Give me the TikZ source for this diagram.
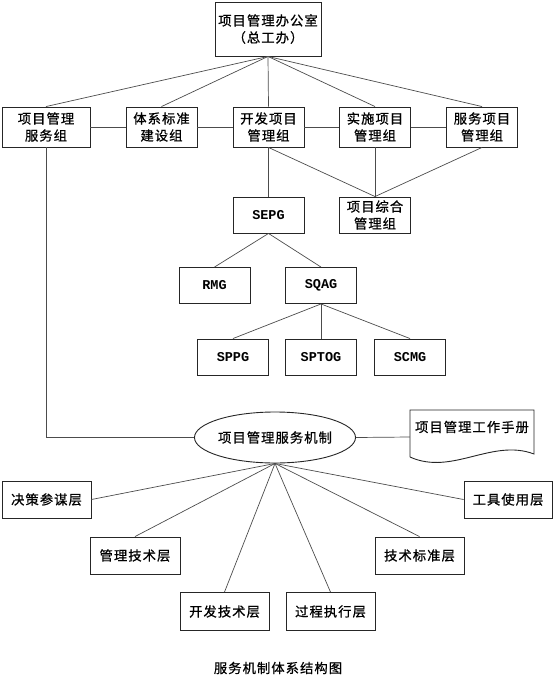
\documentclass[tikz,border=0pt]{standalone}
\usepackage{fontspec}
\newfontfamily\cjk{Noto Sans CJK SC}[LetterSpace=8,FakeBold=0.8]
\newfontfamily\lat{Liberation Mono}
\usetikzlibrary{shapes.geometric}
\begin{document}
\begin{tikzpicture}[x=1pt,y=-1pt,
  box/.style={draw=black!85, line width=0.9pt, inner sep=0pt, align=center,
    font=\cjk\fontsize{13.3}{17}\selectfont},
  abox/.style={box, font=\lat\bfseries\fontsize{13.5}{15}\selectfont},
  link/.style={draw=black!70, line width=0.7pt}]
\useasboundingbox (0,0) rectangle (554,686);
% top
\node[box, minimum width=106pt, minimum height=54pt] (top) at (268,29) {项目管理办公室\\（总工办）};
% row 2
\node[box, minimum width=88pt, minimum height=40pt] (A) at (46,127) {项目管理\\服务组};
\node[box, minimum width=71pt, minimum height=40pt] (B) at (161.5,127) {体系标准\\建设组};
\node[box, minimum width=71pt, minimum height=40pt] (C) at (268.5,127) {开发项目\\管理组};
\node[box, minimum width=71pt, minimum height=40pt] (D) at (375,127) {实施项目\\管理组};
\node[box, minimum width=71pt, minimum height=40pt] (E) at (482,127) {服务项目\\管理组};
% level 3
\node[abox, minimum width=71pt, minimum height=36pt] (SEPG) at (268.5,215) {SEPG};
\node[box, minimum width=71pt, minimum height=36pt] (ZH) at (375,215) {项目综合\\管理组};
\node[abox, minimum width=71pt, minimum height=36pt] (RMG) at (214.5,285.5) {RMG};
\node[abox, minimum width=71pt, minimum height=36pt] (SQAG) at (321,285.5) {SQAG};
\node[abox, minimum width=71pt, minimum height=36pt] (SPPG) at (233,357) {SPPG};
\node[abox, minimum width=71pt, minimum height=36pt] (SPTOG) at (321,357) {SPTOG};
\node[abox, minimum width=71pt, minimum height=36pt] (SCMG) at (410,357) {SCMG};
% mechanism
\node[box, ellipse, minimum width=156pt, minimum height=51pt] (ell) at (275,437.5) {项目管理服务机制};
\node[inner sep=0pt, minimum width=124pt, minimum height=54pt] (doc) at (472,437) {};
\node[font=\cjk\fontsize{13.3}{17}\selectfont, inner sep=0pt] (doctext) at (472,427) {项目管理工作手册};
\draw[draw=black!85, line width=0.9pt] (410,457) -- (410,410) -- (534,410) -- (534,454)
  .. controls (492,438) and (452,476) .. (410,457);
% bottom layers
\node[box, minimum width=89pt, minimum height=37pt] (JC) at (46.5,499.5) {决策参谋层};
\node[box, minimum width=88pt, minimum height=37pt] (GJ) at (508,499.5) {工具使用层};
\node[box, minimum width=90pt, minimum height=37pt] (GL) at (135,555.5) {管理技术层};
\node[box, minimum width=89pt, minimum height=37pt] (JS) at (419.5,555.5) {技术标准层};
\node[box, minimum width=89pt, minimum height=38pt] (KF) at (224.5,611.5) {开发技术层};
\node[box, minimum width=89pt, minimum height=38pt] (GC) at (330.5,611.5) {过程执行层};
% caption
\node[font=\cjk\fontsize{13.3}{17}\selectfont, inner sep=0pt] (cap) at (278,668) {服务机制体系结构图};
% connectors
\foreach \n in {A,B,C,D,E} \draw[link] (top.south) -- (\n.north);
\draw[link] (A.east) -- (B.west);
\draw[link] (B.east) -- (C.west);
\draw[link] (C.east) -- (D.west);
\draw[link] (D.east) -- (E.west);
\draw[link] (C.south) -- (SEPG.north);
\draw[link] (C.south) -- (ZH.north);
\draw[link] (D.south) -- (ZH.north);
\draw[link] (E.south) -- (ZH.north);
\draw[link] (SEPG.south) -- (RMG.north);
\draw[link] (SEPG.south) -- (SQAG.north);
\draw[link] (SQAG.south) -- (SPPG.north);
\draw[link] (SQAG.south) -- (SPTOG.north);
\draw[link] (SQAG.south) -- (SCMG.north);
\draw[link] (A.south) |- (ell.west);
\draw[link] (ell.east) -- (doc.west);
\draw[link] (ell.south) -- (JC.east);
\draw[link] (ell.south) -- (GJ.west);
\draw[link] (ell.south) -- (GL.north);
\draw[link] (ell.south) -- (JS.north);
\draw[link] (ell.south) -- (KF.north);
\draw[link] (ell.south) -- (GC.north);
\end{tikzpicture}
\end{document}
